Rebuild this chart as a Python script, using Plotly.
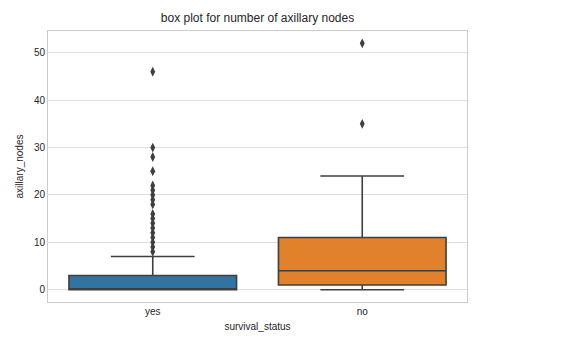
import plotly.graph_objects as go

categories = ["yes", "no"]
q1_vals = [0, 1]
median_vals = [0, 4]
q3_vals = [3, 11]
lower_fence = [0, 0]
upper_fence = [7, 24]
box_colors = ["#3274a1", "#e1812c"]
outliers_yes = [8, 9, 10, 11, 12, 13, 14, 15, 16, 18, 19, 20, 21, 22, 25, 28, 30, 46]
outliers_no = [35, 52]
y_ticks = [0, 10, 20, 30, 40, 50]

edge = "#3f3f3f"
txt = "#262626"
fig = go.Figure()
for i, cat in enumerate(categories):
    fig.add_trace(go.Box(
        x=[cat], q1=[q1_vals[i]], median=[median_vals[i]], q3=[q3_vals[i]],
        lowerfence=[lower_fence[i]], upperfence=[upper_fence[i]],
        boxpoints=False, width=0.8, whiskerwidth=0.5,
        fillcolor=box_colors[i], line=dict(color=edge, width=1.6),
        showlegend=False, hoverinfo="skip"))

for cat, vals in (("yes", outliers_yes), ("no", outliers_no)):
    fig.add_trace(go.Scatter(
        x=[cat] * len(vals), y=vals, mode="markers",
        marker=dict(symbol="diamond-tall", size=7, color=edge, line=dict(width=0)),
        showlegend=False, hoverinfo="skip"))

# page body has an 8px default margin; the figure is sized/offset to compensate
W, H, off = 563, 353, 8
font = "Liberation Sans, Arial, sans-serif"
fig.update_layout(
    width=W, height=H,
    margin=dict(l=48 - off, r=W - (467 - off), t=31 - off, b=H - (302 - off), autoexpand=False),
    paper_bgcolor="white", plot_bgcolor="white",
    font=dict(family=font, size=10, color=txt),
    title=dict(text="box plot for number of axillary nodes", x=(257.5 - off) / W, xanchor="center",
               y=1 - (18 - off) / H, yanchor="middle", font=dict(size=12, color=txt)),
    xaxis=dict(type="category", categoryorder="array", categoryarray=categories,
               range=[-0.5, 1.5], showgrid=False, zeroline=False, automargin=False,
               showline=True, linecolor="#cccccc", linewidth=1, mirror=True,
               ticks="", title=dict(text="survival_status", standoff=6, font=dict(size=10))),
    yaxis=dict(range=[-2.6, 54.6], tickvals=y_ticks, showgrid=True, gridcolor="#dedede",
               gridwidth=1, zeroline=False, showline=True, linecolor="#cccccc", linewidth=1,
               mirror=True, ticks="", automargin=False,
               title=dict(text="axillary_nodes", standoff=8, font=dict(size=10))),
)
fig.write_html("out.html")
